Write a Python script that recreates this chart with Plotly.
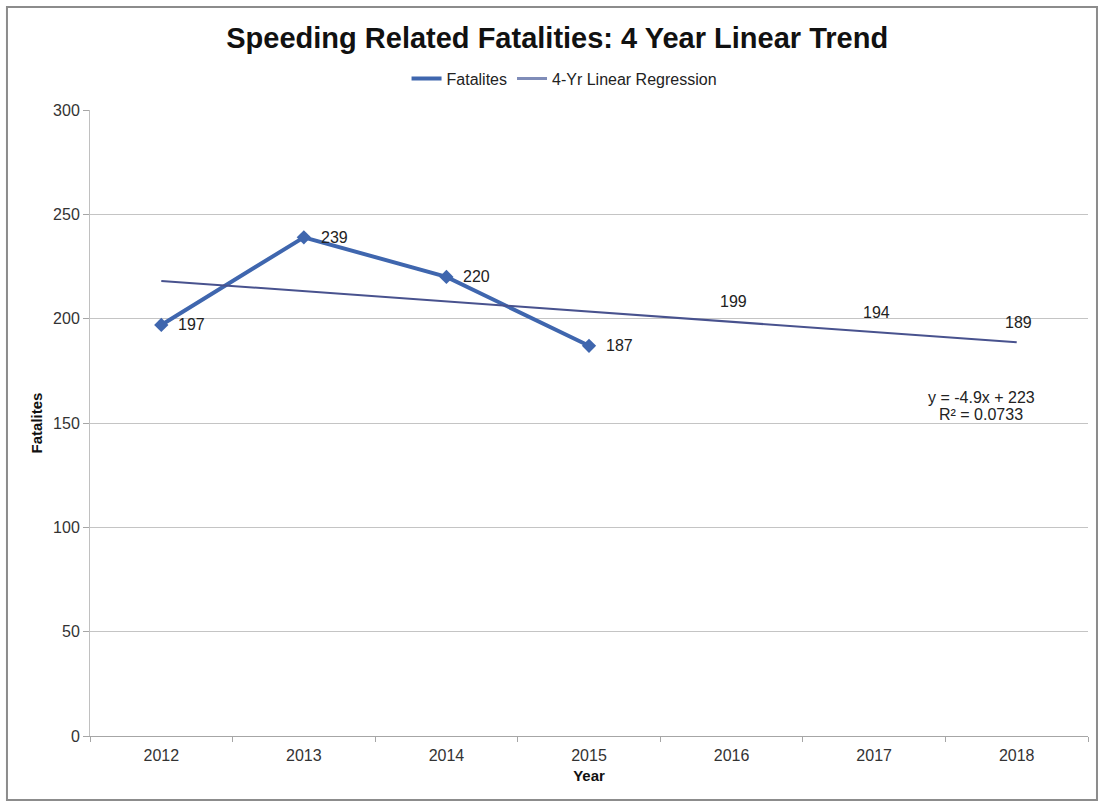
import plotly.graph_objects as go

# Chart data
years = ["2012", "2013", "2014", "2015", "2016", "2017", "2018"]
fatality_years = ["2012", "2013", "2014", "2015"]
fatalities = [197, 239, 220, 187]
# 4-year linear regression (y = -4.9x + 223) evaluated at each year
trend_values = [218.1, 213.2, 208.3, 203.4, 198.5, 193.6, 188.7]
labelled_trend_years = ["2016", "2017", "2018"]
y_ticks = [0, 50, 100, 150, 200, 250, 300]

FONT = "Liberation Sans, Arial, sans-serif"
FAT_COLOR = "#3f66ae"
TREND_COLOR = "#48528e"
TEXT = "#222222"

fig = go.Figure()

fig.add_trace(go.Scatter(
    x=fatality_years, y=fatalities, name="Fatalites",
    mode="lines+markers", showlegend=False,
    line=dict(color=FAT_COLOR, width=4),
    marker=dict(symbol="diamond", size=11, color=FAT_COLOR),
))

fig.add_trace(go.Scatter(
    x=years, y=trend_values, name="4-Yr Linear Regression",
    mode="lines", showlegend=False, line=dict(color=TREND_COLOR, width=2),
))

# legend entries (line swatches only)
fig.add_trace(go.Scatter(
    x=[None], y=[None], name="Fatalites", mode="lines",
    line=dict(color=FAT_COLOR, width=4),
))
fig.add_trace(go.Scatter(
    x=[None], y=[None], name="4-Yr Linear Regression", mode="lines",
    line=dict(color="#7f8cb8", width=3),
))

# value labels on the fatality points (category index positions)
for yr, v in zip(fatality_years, fatalities):
    fig.add_annotation(x=years.index(yr), y=v, xref="x", yref="y",
                       text=str(v), showarrow=False,
                       xanchor="left", yanchor="middle", xshift=15,
                       font=dict(family=FONT, size=16, color=TEXT))

# value labels on the projected years of the trend line
for yr in labelled_trend_years:
    i = years.index(yr)
    v = trend_values[i]
    fig.add_annotation(x=i, y=v, xref="x", yref="y",
                       text=str(int(v + 0.5)), showarrow=False,
                       xanchor="center", yanchor="middle", yshift=20, xshift=2,
                       font=dict(family=FONT, size=16, color=TEXT))

fig.update_layout(
    width=1099, height=804,
    margin=dict(l=90, r=11, t=110, b=68),
    paper_bgcolor="white", plot_bgcolor="white",
    font=dict(family=FONT, size=16, color=TEXT),
    title=dict(text="<b>Speeding Related Fatalities: 4 Year Linear Trend</b>",
               x=0.507, xanchor="center", y=0.953, yanchor="middle",
               font=dict(family=FONT, size=29, color="#111111")),
    legend=dict(orientation="h", x=0.475, xanchor="center", y=1.05, yanchor="middle",
                font=dict(family=FONT, size=16, color=TEXT),
                bgcolor="rgba(0,0,0,0)", tracegroupgap=0),
    showlegend=True,
    xaxis=dict(
        type="category", categoryorder="array", categoryarray=years,
        range=[-0.5, 6.5],
        showline=True, linecolor="#a6a6a6", linewidth=1,
        ticks="outside", tickson="boundaries", ticklen=5, tickcolor="#a6a6a6",
        ticklabelstandoff=5,
        showgrid=False, zeroline=False,
        tickfont=dict(family=FONT, size=16, color="#333333"),
        title=dict(text="<b>Year</b>", standoff=7,
                   font=dict(family=FONT, size=15, color="#111111")),
    ),
    yaxis=dict(
        range=[0, 300], tickvals=y_ticks,
        showline=True, linecolor="#c0c0c0", linewidth=1,
        ticks="outside", ticklen=6, tickcolor="#a6a6a6",
        showgrid=True, gridcolor="#c4c4c4", gridwidth=1,
        zeroline=False,
        tickfont=dict(family=FONT, size=16, color="#333333"),
        title=dict(text="<b>Fatalites</b>", standoff=6,
                   font=dict(family=FONT, size=15, color="#111111")),
    ),
)

# regression equation and R-squared
fig.add_annotation(x=0.893, y=0.54, xref="paper", yref="paper",
                   text="y = -4.9x + 223", showarrow=False, xanchor="center",
                   yanchor="middle", font=dict(family=FONT, size=16, color=TEXT))
fig.add_annotation(x=0.893, y=0.5128, xref="paper", yref="paper",
                   text="R² = 0.0733", showarrow=False, xanchor="center",
                   yanchor="middle", font=dict(family=FONT, size=16, color=TEXT))

# chart outer frame
fig.add_shape(
    type="rect", xref="paper", yref="paper",
    x0=-0.0832, x1=1.009, y0=-0.1022, y1=1.1645,
    line=dict(color="#8c8c8c", width=2), fillcolor="rgba(0,0,0,0)", layer="below",
)

fig.write_html("out.html")
